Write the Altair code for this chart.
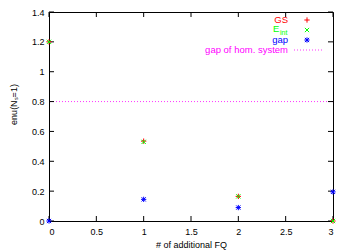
import altair as alt
import pandas as pd

# data
fq = [0, 1, 2, 3]
gs = [1.2, 0.535, 0.165, 0.0]
eint = [1.2, 0.53, 0.165, 0.0]
gap = [0.0, 0.145, 0.09, 0.195]
hom_gap = 0.8

x_ticks = [0, 0.5, 1, 1.5, 2, 2.5, 3]
y_ticks = [0, 0.2, 0.4, 0.6, 0.8, 1.0, 1.2, 1.4]

RED, GREEN, BLUE, MAG = "#ff0000", "#00ff00", "#0000ff", "#ff00ff"
PLUS = "M-1,0L1,0M0,-1L0,1"
CROSS = "M-0.8,-0.8L0.8,0.8M-0.8,0.8L0.8,-0.8"
STAR = PLUS + CROSS
FONT = "Liberation Sans"

W, H = 284, 209
xs = alt.Scale(domain=[0, 3], nice=False, zero=False)
ys = alt.Scale(domain=[0, 1.4], nice=False, zero=False)

xax = alt.Axis(values=x_ticks, tickSize=0, labelPadding=6, domain=False, grid=False,
               title="# of additional FQ", titlePadding=4,
               labelFont=FONT, titleFont=FONT, labelFontSize=9, titleFontSize=9,
               titleFontWeight="normal", labelColor="#000", titleColor="#000",
               labelExpr="datum.value")
yax = alt.Axis(values=y_ticks, tickSize=0, labelPadding=5, domain=False, grid=False,
               title="enu(Nₛ=1)", titleX=-36, titleY=92, titleAngle=270,
               titleBaseline="middle", titleAlign="center",
               labelFont=FONT, titleFont=FONT, labelFontSize=9, titleFontSize=9,
               titleFontWeight="normal", labelColor="#000", titleColor="#000",
               labelExpr="datum.value")

df = pd.DataFrame({"fq": fq, "gs": gs, "eint": eint, "gap": gap})

base = alt.Chart(df)

def pts(field, shape, color):
    return base.mark_point(shape=shape, filled=False, stroke=color, strokeWidth=1,
                           size=28, opacity=1).encode(
        x=alt.X("fq:Q", scale=xs, axis=xax),
        y=alt.Y(f"{field}:Q", scale=ys, axis=yax))

hline = alt.Chart(pd.DataFrame({"y": [hom_gap]})).mark_rule(
    color=MAG, strokeDash=[1, 2], strokeWidth=1, opacity=0.8).encode(
    y=alt.Y("y:Q", scale=ys, axis=yax))

# inward ticks (bottom, top, left, right)
xt = pd.DataFrame({"t": x_ticks})
yt = pd.DataFrame({"t": y_ticks})
TL = 5
tb = alt.Chart(xt).mark_rule(color="#000").encode(
    x=alt.X("t:Q", scale=xs, axis=xax), y=alt.value(H), y2=alt.value(H - TL))
tt = alt.Chart(xt).mark_rule(color="#000").encode(
    x=alt.X("t:Q", scale=xs, axis=xax), y=alt.value(0), y2=alt.value(TL))
tl = alt.Chart(yt).mark_rule(color="#000").encode(
    y=alt.Y("t:Q", scale=ys, axis=yax), x=alt.value(0), x2=alt.value(TL))
tr = alt.Chart(yt).mark_rule(color="#000").encode(
    y=alt.Y("t:Q", scale=ys, axis=yax), x=alt.value(W), x2=alt.value(W - TL))

# legend
leg_labels = ["GS", "", "gap", "gap of hom. system"]
leg_colors = [RED, GREEN, BLUE, MAG]
leg_y = [8, 18, 28, 38]
leg_texts = []
for lab, col, yy in zip(leg_labels, leg_colors, leg_y):
    if lab:
        leg_texts.append(alt.Chart(pd.DataFrame({"l": [lab]})).mark_text(
            align="right", baseline="middle", font=FONT, fontSize=9.5, color=col).encode(
            text="l:N", x=alt.value(239), y=alt.value(yy)))
leg_texts.append(alt.Chart(pd.DataFrame({"l": ["E"]})).mark_text(
    align="left", baseline="middle", font=FONT, fontSize=9.5, color=GREEN).encode(
    text="l:N", x=alt.value(224), y=alt.value(17)))
leg_texts.append(alt.Chart(pd.DataFrame({"l": ["int"]})).mark_text(
    align="left", baseline="middle", font=FONT, fontSize=7, color=GREEN).encode(
    text="l:N", x=alt.value(231), y=alt.value(21)))

def leg_sym(shape, color, yy):
    return alt.Chart(pd.DataFrame({"a": [0]})).mark_point(
        shape=shape, filled=False, stroke=color, strokeWidth=1, size=28, opacity=1).encode(
        x=alt.value(258), y=alt.value(yy))

leg_syms = [leg_sym(PLUS, RED, 8), leg_sym(CROSS, GREEN, 18), leg_sym(STAR, BLUE, 28)]
leg_line = alt.Chart(pd.DataFrame({"a": [0]})).mark_rule(
    color=MAG, strokeDash=[1, 2], opacity=0.8).encode(x=alt.value(245), x2=alt.value(273), y=alt.value(38))

chart = alt.layer(
    hline, tb, tt, tl, tr,
    pts("gs", PLUS, RED), pts("eint", CROSS, GREEN), pts("gap", STAR, BLUE),
    *leg_texts, *leg_syms, leg_line,
).properties(
    width=W, height=H,
    autosize=alt.AutoSizeParams(type="none"),
    padding={"left": 41, "top": 4, "right": 8, "bottom": 30},
    background="white",
).configure_view(stroke="#000", strokeWidth=1)

chart.save("out.html", embed_options={"renderer": "svg", "actions": False})
